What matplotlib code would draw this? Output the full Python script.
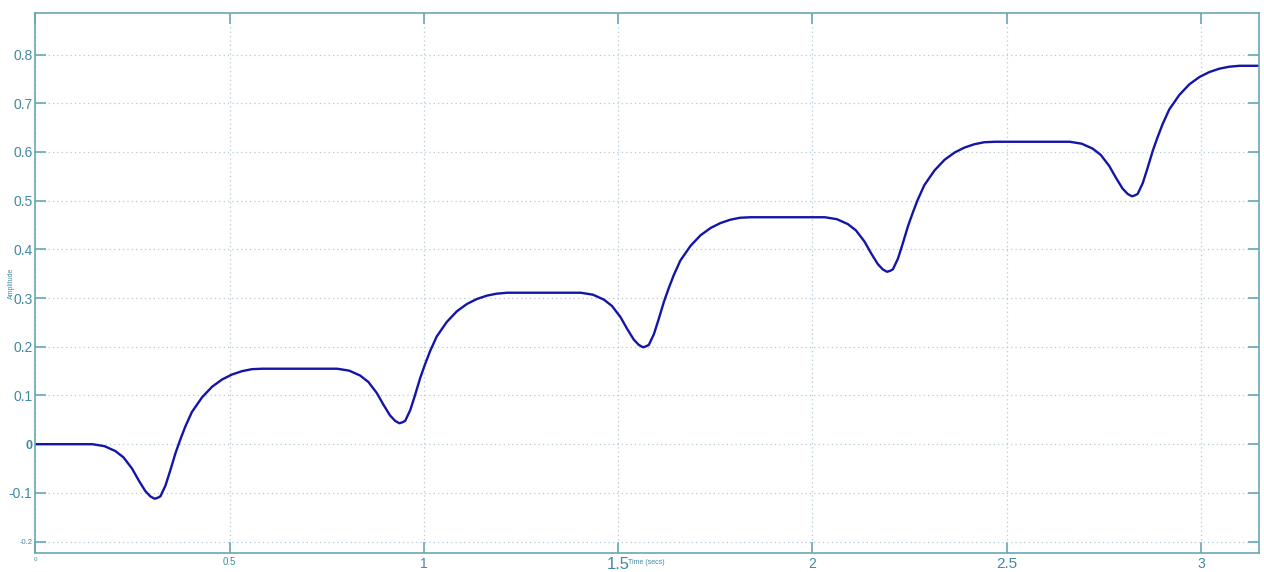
import numpy as np
import matplotlib.pyplot as plt

# step response samples (five dips, one per step)
time_s = [0.0,
          0.147, 0.178, 0.206, 0.227, 0.249, 0.266, 0.283, 0.296, 0.307, 0.315, 0.322, 0.335,
          0.347, 0.361, 0.373, 0.386, 0.403, 0.429, 0.455, 0.481, 0.506, 0.532, 0.557, 0.584,
          0.777, 0.808, 0.836, 0.857, 0.879, 0.896, 0.913, 0.926, 0.937, 0.945, 0.952, 0.965,
          0.977, 0.991, 1.003, 1.016, 1.033, 1.059, 1.085, 1.111, 1.136, 1.162, 1.187, 1.214,
          1.404, 1.435, 1.463, 1.484, 1.506, 1.523, 1.540, 1.553, 1.564, 1.572, 1.579, 1.592,
          1.604, 1.618, 1.630, 1.643, 1.660, 1.686, 1.712, 1.738, 1.763, 1.789, 1.814, 1.841,
          2.032, 2.063, 2.091, 2.112, 2.134, 2.151, 2.168, 2.181, 2.192, 2.200, 2.207, 2.220,
          2.232, 2.246, 2.258, 2.271, 2.288, 2.314, 2.340, 2.366, 2.391, 2.417, 2.442, 2.469,
          2.662, 2.693, 2.721, 2.742, 2.764, 2.781, 2.798, 2.811, 2.822, 2.830, 2.837, 2.850,
          2.862, 2.876, 2.888, 2.901, 2.918, 2.944, 2.970, 2.996, 3.021, 3.047, 3.072, 3.099,
          3.15]
amplitude = [0.0,
             0.000, -0.004, -0.014, -0.027, -0.050, -0.074, -0.096, -0.107, -0.112, -0.110, -0.107, -0.085,
             -0.055, -0.018, 0.009, 0.036, 0.066, 0.096, 0.118, 0.133, 0.143, 0.150, 0.154, 0.155,
             0.155, 0.151, 0.141, 0.128, 0.105, 0.081, 0.059, 0.048, 0.043, 0.045, 0.048, 0.070,
             0.100, 0.137, 0.164, 0.191, 0.221, 0.251, 0.273, 0.288, 0.298, 0.305, 0.309, 0.311,
             0.311, 0.307, 0.297, 0.284, 0.261, 0.237, 0.215, 0.204, 0.199, 0.201, 0.204, 0.226,
             0.256, 0.293, 0.320, 0.347, 0.377, 0.407, 0.429, 0.444, 0.454, 0.461, 0.465, 0.466,
             0.466, 0.462, 0.452, 0.439, 0.416, 0.392, 0.370, 0.359, 0.354, 0.356, 0.359, 0.381,
             0.411, 0.448, 0.475, 0.502, 0.532, 0.562, 0.584, 0.599, 0.609, 0.616, 0.620, 0.621,
             0.621, 0.617, 0.607, 0.594, 0.571, 0.547, 0.525, 0.514, 0.509, 0.511, 0.514, 0.536,
             0.566, 0.603, 0.630, 0.657, 0.687, 0.717, 0.739, 0.754, 0.764, 0.771, 0.775, 0.777,
             0.777]

xticks = [0, 0.5, 1, 1.5, 2, 2.5, 3]
xtick_labels = ['0', '0.5', '1', '1.5', '2', '2.5', '3']
yticks = [-0.2, -0.1, 0, 0.1, 0.2, 0.3, 0.4, 0.5, 0.6, 0.7, 0.8]
ytick_labels = ['-0.2', '-0.1', '0', '0.1', '0.2', '0.3', '0.4', '0.5', '0.6', '0.7', '0.8']

axis_col = '#6aa6b8'
text_col = '#3f8aa3'
grid_col = '#b4cad6'

plt.rcParams['font.family'] = ['Liberation Sans', 'DejaVu Sans']

fig = plt.figure(figsize=(12.64, 5.72), dpi=100)
ax = fig.add_axes([0.0279, 0.0327, 0.9684, 0.9451])

ax.plot(time_s, amplitude, color='#1414a8', linewidth=1.7,
        solid_joinstyle='round', solid_capstyle='round')

ax.set_xlim(0, 3.15)
ax.set_ylim(-0.224, 0.886)
ax.set_xticks(xticks)
ax.set_xticklabels(xtick_labels)
ax.set_yticks(yticks)
ax.set_yticklabels(ytick_labels)

ax.grid(True, linestyle=(0, (1, 2.5)), color=grid_col, linewidth=0.9)
for s in ax.spines.values():
    s.set_color(axis_col)
    s.set_linewidth(1.2)
ax.tick_params(direction='in', length=8, width=1.2, color=axis_col, labelcolor=text_col,
               top=True, right=True)
ax.tick_params(axis='y', pad=2)
ax.tick_params(axis='x', pad=3)

# the exported tick labels came out in mixed sizes
xsizes = [4.5, 7, 10, 12, 10, 11, 10]
for lab, fs in zip(ax.get_xticklabels(), xsizes):
    lab.set_fontsize(fs)
ysizes = [5.5, 10, 9, 10, 10, 10, 10, 10, 10, 10, 10]
for lab, fs in zip(ax.get_yticklabels(), ysizes):
    lab.set_fontsize(fs)
ax.get_yticklabels()[2].set_fontweight('bold')

ax.set_xlabel('Time (secs)', fontsize=5, color=text_col, ha='left', va='center')
ax.xaxis.set_label_coords(0.484, -0.017)
ax.set_ylabel('Amplitude', fontsize=5, color=text_col, va='center')
ax.yaxis.set_label_coords(-0.0194, 0.499)

fig.savefig('out.png', dpi=100)
